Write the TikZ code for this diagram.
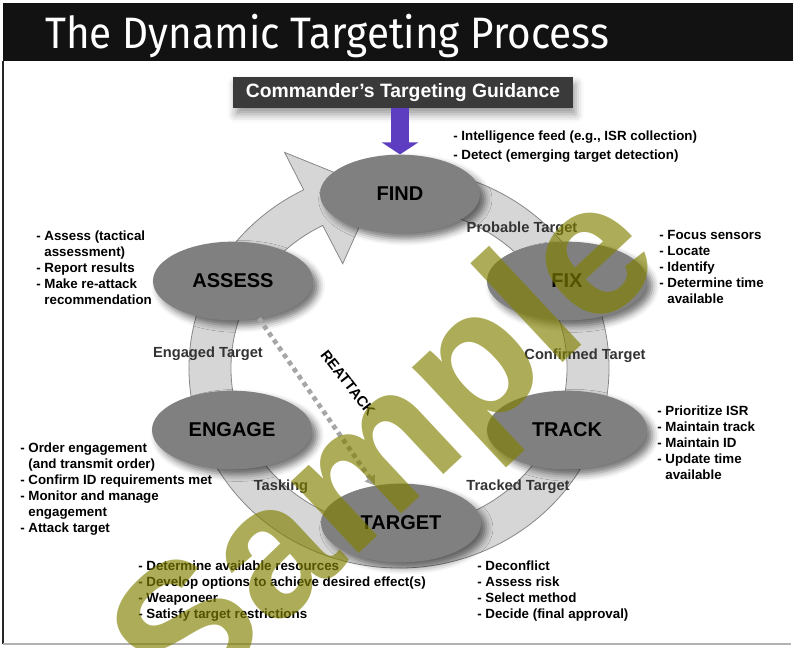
\documentclass[tikz,border=0pt]{standalone}
\usepackage{fontspec}
\setmainfont{Liberation Sans}
\newfontfamily\titlefont{Fira Sans}
\usetikzlibrary{shapes.geometric,arrows.meta,shadows.blur}

\definecolor{barblack}{RGB}{18,18,18}
\definecolor{boxgray}{RGB}{58,58,58}
\definecolor{phasegray}{RGB}{128,128,128}
\definecolor{ringgray}{RGB}{214,214,214}
\definecolor{ringedge}{RGB}{135,135,135}
\definecolor{guidepurple}{RGB}{94,62,192}
\definecolor{stampolive}{RGB}{128,128,0}

\newcommand{\indentline}{\phantom{- }}

\begin{document}
\begin{tikzpicture}[x=0.75pt,y=-0.75pt,
  phase/.style={ellipse, fill=phasegray, minimum width=120pt, minimum height=59pt,
    inner sep=0pt, font=\fontsize{15}{18}\selectfont\bfseries,
    blur shadow={shadow xshift=4pt, shadow yshift=-4pt, shadow blur radius=5pt, shadow opacity=55}},
  notes/.style={align=left, anchor=north west, inner sep=0pt,
    font=\fontsize{10}{12}\selectfont\bfseries},
  flow/.style={font=\fontsize{11}{13}\selectfont\bfseries, text=black!80},
  ring/.style={fill=ringgray, draw=ringedge, line width=0.6pt},
  reattack/.style={draw=black!35, line width=3.5pt, dash pattern=on 3.5pt off 3pt,
    -{Triangle[width=9pt,length=7pt]}},
]
\useasboundingbox (0,0) rectangle (793,647);

% title bar and frame
\fill[barblack] (3,3) rectangle (793,61);
\node[text=white, anchor=base west, inner sep=0pt,
  font=\titlefont\fontsize{33}{36}\selectfont] (title) at (45,48)
  {\scalebox{0.92}[1]{The Dynamic Targeting Process}};
\draw[black!85, line width=0.8pt] (3,61) -- (3,644);
\draw[black!30, line width=0.8pt] (3,644) -- (791,644);

% the cycle band with its head at FIND
\begin{scope}[shift={(399,368)}, x=0.75pt, y=0.75pt]
  \draw[ring] (80:210 and 200) arc[start angle=80, end angle=-243, x radius=210, y radius=200]
    -- (-243:252 and 242) -- (-263:189 and 180) -- (-243:124 and 117) -- (-243:168 and 160)
    arc[start angle=-243, end angle=80, x radius=168, y radius=160] -- cycle;
\end{scope}

% phases
\node[phase] (find)   at (400,194) {FIND};
\node[phase] (assess) at (233,281) {ASSESS};
\node[phase] (fix)    at (567,281) {FIX};
\node[phase] (engage) at (232,430) {ENGAGE};
\node[phase] (track)  at (567,430) {TRACK};
\node[phase] (target) at (401,523) {TARGET};

\draw[reattack] (assess) -- (target);
\node[font=\fontsize{11}{13}\selectfont\bfseries, rotate=-52] (reattacklabel) at (348,383) {REATTACK};

% guidance box feeding FIND
\node[fill=boxgray, text=white, font=\fontsize{14.5}{17}\selectfont\bfseries,
  minimum width=255pt, minimum height=23pt, inner sep=0pt,
  blur shadow={shadow xshift=2pt, shadow yshift=-5pt, shadow blur radius=6pt}] (guide)
  at (403,92.5) {Commander’s Targeting Guidance};
\draw[guidepurple, line width=13pt, -{Triangle[width=27pt,length=9pt]}]
  (guide.south -| find.north) -- (find.north);

% transitions on the band
\node[flow] (probable)  at (522,229) {Probable Target};
\node[flow] (confirmed) at (585,356) {Confirmed Target};
\node[flow] (tracked)   at (518,487) {Tracked Target};
\node[flow] (tasking)   at (281,487) {Tasking};
\node[flow] (engaged)   at (208,354) {Engaged Target};

% tasks of each phase
\node[notes, font=\fontsize{10}{14}\selectfont\bfseries] (findnotes) at (453,131)
  {- Intelligence feed (e.g., ISR collection)\\- Detect (emerging target detection)};
\node[notes] (assessnotes) at (36,231)
  {- Assess (tactical\\\indentline assessment)\\- Report results\\- Make re-attack\\\indentline recommendation};
\node[notes] (fixnotes) at (659,230)
  {- Focus sensors\\- Locate\\- Identify\\- Determine time\\\indentline available};
\node[notes] (tracknotes) at (657,406)
  {- Prioritize ISR\\- Maintain track\\- Maintain ID\\- Update time\\\indentline available};
\node[notes] (engagenotes) at (20,443)
  {- Order engagement\\\indentline(and transmit order)\\- Confirm ID requirements met\\- Monitor and manage\\\indentline engagement\\- Attack target};
\node[notes] (targetnotesa) at (138,561)
  {- Determine available resources\\- Develop options to achieve desired effect(s)\\- Weaponeer\\- Satisfy target restrictions};
\node[notes] (targetnotesb) at (477,561)
  {- Deconflict\\- Assess risk\\- Select method\\- Decide (final approval)};

% stamp across the page
\node[text=stampolive, opacity=0.65, rotate=43,
  font=\fontsize{140}{140}\selectfont\bfseries] (stamp) at (392,456) {Sample};
\end{tikzpicture}
\end{document}
